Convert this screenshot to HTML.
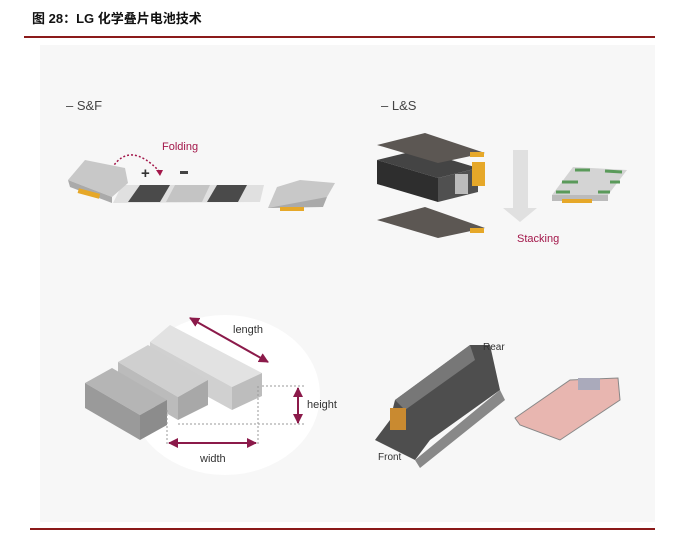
<!DOCTYPE html>
<html><head><meta charset="utf-8"><style>
html,body{margin:0;padding:0;background:#fff;}
body{width:699px;height:546px;position:relative;overflow:hidden;font-family:"Liberation Sans","Noto Sans CJK SC",sans-serif;}
.t{position:absolute;left:32px;top:8px;font-size:13px;font-weight:bold;color:#111;}
.l1{position:absolute;left:24px;top:36px;width:631px;height:2px;background:#8b1a1a;}
.l2{position:absolute;left:30px;top:528px;width:625px;height:2px;background:#8b1a1a;}
.panel{position:absolute;left:40px;top:45px;width:615px;height:477px;background:#f7f7f7;}
svg{position:absolute;left:0;top:0;}
</style></head><body>
<div class="t">图 28：LG 化学叠片电池技术</div>
<div class="l1"></div>
<div class="panel"></div>
<svg width="699" height="546" viewBox="0 0 699 546" font-family="Liberation Sans, sans-serif">
<defs>
<marker id="ah" viewBox="0 0 10 10" refX="9" refY="5" markerWidth="5" markerHeight="5" orient="auto-start-reverse"><path d="M0 0L10 5L0 10z" fill="#8b1a4a"/></marker>
</defs>
<text x="66" y="110" font-size="13" fill="#444">– S&amp;F</text>
<text x="381" y="110" font-size="13" fill="#444">– L&amp;S</text>
<!-- S&F -->
<text x="162" y="150" font-size="11" fill="#a3174a">Folding</text>
<path d="M112 168 Q130 140 160 172" stroke="#a3174a" fill="none" stroke-dasharray="2,2" stroke-width="1.5"/>
<polygon points="156,170 163,170 160,176" fill="#a3174a"/>
<text x="141" y="178" font-size="15" font-weight="bold" fill="#333">+</text>
<rect x="180" y="171" width="8" height="3" fill="#444"/>
<polygon points="122,185 264,185 260,202 113,203" fill="#e0e0e0"/>
<polygon points="140,185 170,185 160,202 128,202" fill="#4a4a4a"/>
<polygon points="175,185 210,185 202,202 166,202" fill="#c4c4c4"/>
<polygon points="217,185 247,185 238,202 207,202" fill="#4a4a4a"/>
<polygon points="68,180 85,160 125,168 128,183 112,197" fill="#c8c8c8"/>
<polygon points="68,180 112,197 112,203 70,187" fill="#aaa"/>
<rect x="78" y="191" width="22" height="5" fill="#e6a829" transform="rotate(15 89 193)"/>
<polygon points="277,187 300,180 335,183 327,197 300,207 268,208" fill="#c8c8c8"/>
<polygon points="268,208 323,207 327,197" fill="#aaa"/>
<rect x="280" y="207" width="24" height="4" fill="#e6a829"/>
<!-- L&S -->
<polygon points="377,160 418,150 478,168 438,178" fill="#444"/>
<polygon points="377,160 438,178 438,202 377,184" fill="#2e2e2e"/>
<polygon points="438,178 478,168 478,192 438,202" fill="#505050"/>
<rect x="472" y="162" width="13" height="24" fill="#e6a829"/>
<rect x="455" y="174" width="13" height="20" fill="#bbb"/>
<polygon points="377,145 425,133 485,153 438,163" fill="#5c5753"/>
<rect x="470" y="152" width="14" height="5" fill="#e6a829"/>
<polygon points="377,220 425,207 485,228 438,238" fill="#5c5753"/>
<rect x="470" y="228" width="14" height="5" fill="#e6a829"/>
<polygon points="513,150 528,150 528,208 537,208 520,222 503,208 513,208" fill="#e0e0e0"/>
<text x="517" y="242" font-size="11" fill="#a3174a">Stacking</text>
<polygon points="552,195 573,167 627,170 608,195" fill="#d4d4d4"/>
<polygon points="552,195 608,195 608,201 552,201" fill="#bbb"/>
<g stroke="#5a9a5a" stroke-width="3"><line x1="575" y1="170" x2="590" y2="170"/><line x1="605" y1="171" x2="622" y2="172"/><line x1="562" y1="182" x2="578" y2="182"/><line x1="610" y1="182" x2="620" y2="182"/><line x1="556" y1="192" x2="570" y2="192"/><line x1="598" y1="192" x2="610" y2="192"/></g>
<rect x="562" y="199" width="30" height="4" fill="#e6a829"/>
<!-- cell blocks -->
<ellipse cx="225" cy="395" rx="95" ry="80" fill="#fff"/>
<polygon points="150,342 170,325 262,373 232,387" fill="#e2e2e2"/>
<polygon points="232,387 262,373 262,396 232,410" fill="#bdbdbd"/>
<polygon points="150,342 232,387 232,410 150,365" fill="#d0d0d0"/>
<polygon points="118,362 148,345 208,380 178,397" fill="#cfcfcf"/>
<polygon points="178,397 208,380 208,405 178,420" fill="#a8a8a8"/>
<polygon points="118,362 178,397 178,420 118,385" fill="#bbb"/>
<polygon points="85,383 112,368 167,400 140,415" fill="#b5b5b5"/>
<polygon points="85,383 140,415 140,440 85,408" fill="#9a9a9a"/>
<polygon points="140,415 167,400 167,425 140,440" fill="#8c8c8c"/>
<g stroke="#999" stroke-dasharray="2,2" fill="none"><line x1="262" y1="386" x2="305" y2="386"/><line x1="178" y1="424" x2="305" y2="424"/><line x1="167" y1="410" x2="167" y2="445"/><line x1="258" y1="386" x2="258" y2="445"/></g>
<text x="233" y="333" font-size="11" fill="#333">length</text>
<text x="307" y="408" font-size="11" fill="#333">height</text>
<text x="200" y="462" font-size="11" fill="#333">width</text>
<line x1="190" y1="318" x2="268" y2="362" stroke="#8b1a4a" stroke-width="2" marker-start="url(#ah)" marker-end="url(#ah)"/>
<line x1="298" y1="388" x2="298" y2="423" stroke="#8b1a4a" stroke-width="2" marker-start="url(#ah)" marker-end="url(#ah)"/>
<line x1="169" y1="443" x2="256" y2="443" stroke="#8b1a4a" stroke-width="2" marker-start="url(#ah)" marker-end="url(#ah)"/>
<!-- pack -->
<polygon points="375,440 390,420 395,400 470,345 490,345 500,390 430,440 415,460" fill="#4e4e4e"/>
<polygon points="395,400 470,345 475,360 405,410" fill="#777"/>
<polygon points="415,460 500,390 505,400 420,468" fill="#888"/>
<rect x="390" y="408" width="16" height="22" fill="#c98a30"/>
<text x="483" y="350" font-size="10" fill="#333">Rear</text>
<text x="378" y="460" font-size="10" fill="#333">Front</text>
<polygon points="515,418 570,380 618,378 620,400 560,440 520,425" fill="#e8b6b0" stroke="#888"/>
<rect x="578" y="378" width="22" height="12" fill="#aab"/>
</svg>
<div class="l2"></div>
</body></html>
